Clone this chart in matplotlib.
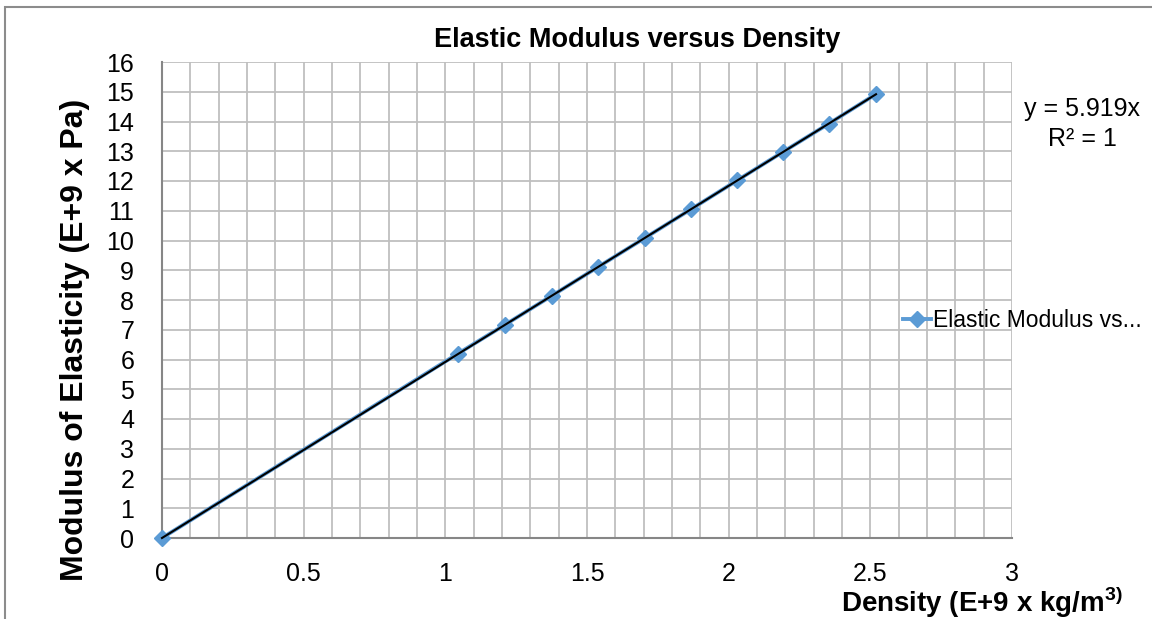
import matplotlib
matplotlib.use("Agg")
import matplotlib.pyplot as plt
from matplotlib.lines import Line2D
import numpy as np

plt.rcParams["font.family"] = ["Liberation Sans", "DejaVu Sans"]
plt.rcParams["mathtext.fontset"] = "custom"
plt.rcParams["mathtext.rm"] = "Liberation Sans"
plt.rcParams["mathtext.bf"] = "Liberation Sans:bold"

# data
density = [0.0, 1.045, 1.211, 1.377, 1.539, 1.705, 1.867, 2.030, 2.192, 2.354, 2.520]
modulus = [0.0, 6.20, 7.17, 8.15, 9.11, 10.09, 11.05, 12.02, 12.98, 13.93, 14.92]
slope = 5.919
x_ticks = [0, 0.5, 1, 1.5, 2, 2.5, 3]
x_tick_labels = ["0", "0.5", "1", "1.5", "2", "2.5", "3"]
y_ticks = list(range(0, 17))

blue = "#5B9BD5"
grid_c = "#BFBFBF"
axis_c = "#868686"

fig = plt.figure(figsize=(11.52, 6.19), dpi=100)
ax = fig.add_axes([162 / 1152, 1 - 538 / 619, 850 / 1152, 476 / 619])

ax.plot(density, modulus, color=blue, lw=2.8, marker="D", ms=8,
        markerfacecolor=blue, markeredgecolor=blue, zorder=3, clip_on=False)
# linear trendline through origin
xt = np.array([0.0, max(density)])
ax.plot(xt, slope * xt, color="black", lw=1.5, zorder=4, clip_on=False)

ax.set_xlim(0, 3)
ax.set_ylim(0, 16)
ax.set_xticks(x_ticks)
ax.set_xticklabels(x_tick_labels)
ax.set_xticks(np.arange(0, 3.01, 0.1), minor=True)
ax.set_yticks(y_ticks)
ax.grid(True, which="both", color=grid_c, lw=1.3, zorder=0)
ax.set_axisbelow(True)
ax.tick_params(which="both", length=0, labelsize=18)
ax.tick_params(axis="x", pad=17)
ax.tick_params(axis="y", pad=20)

for s in ["top", "right"]:
    ax.spines[s].set_visible(False)
for s in ["left", "bottom"]:
    ax.spines[s].set_color(axis_c)
    ax.spines[s].set_linewidth(1.5)

fig.text(637 / 1152, 1 - 40 / 619, "Elastic Modulus versus Density",
         ha="center", va="center", fontsize=19.5, fontweight="bold")
fig.text(75 / 1152, 1 - 340 / 619, "Modulus of Elasticity (E+9 x Pa)",
         ha="center", va="center", rotation=90, fontsize=23, fontweight="bold")
fig.text(982 / 1152, 1 - 602 / 619, r"Density (E+9 x kg/m$^{\mathbf{3)}}$",
         ha="center", va="center", fontsize=20, fontweight="bold")

fig.text(1082 / 1152, 1 - 124 / 619, "y = 5.919x\nR² = 1",
         ha="center", va="center", fontsize=18, multialignment="center",
         linespacing=1.3)

handle = Line2D([0], [0], color=blue, lw=2.8, marker="D", ms=8)
ax.legend([handle], ["Elastic Modulus vs..."], loc="center left",
          bbox_to_anchor=(0.872, 0.456), frameon=False, fontsize=16.5,
          handlelength=1.2, handletextpad=0.1, borderpad=0, borderaxespad=0)

# outer chart border
fig.add_artist(plt.Rectangle((5 / 1152, -0.05), 1.2, 1 - 7 / 619 + 0.05,
                             transform=fig.transFigure, fill=False,
                             edgecolor="#8C8C8C", lw=1.5))

fig.savefig("out.png", dpi=100)
